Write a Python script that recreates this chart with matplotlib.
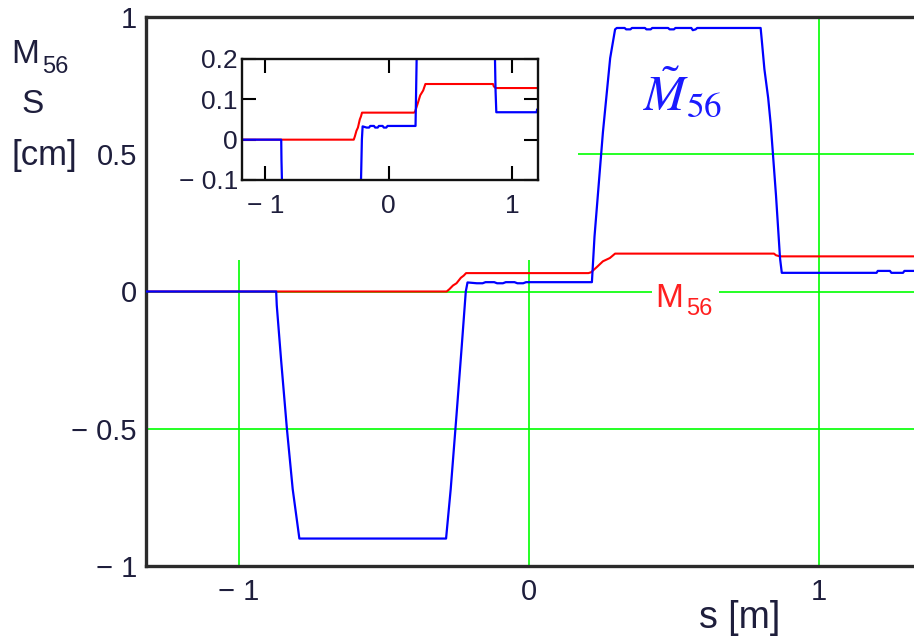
import matplotlib
matplotlib.use('Agg')
import matplotlib.pyplot as plt
from matplotlib import font_manager
from matplotlib.patches import Rectangle

# ---- data (s in m, M56 in cm) ----
s_blue = [-1.321, -0.872, -0.870, -0.855, -0.835, -0.815, -0.792,
          -0.286, -0.270, -0.250, -0.232, -0.218, -0.212,
          -0.180, -0.160, -0.150, -0.120, -0.110, -0.090, -0.080,
          -0.050, -0.040, -0.020, -0.010, 0.217,
          0.226, 0.255, 0.280, 0.297, 0.303,
          0.330, 0.335, 0.350, 0.355, 0.400, 0.405, 0.420, 0.425,
          0.480, 0.485, 0.500, 0.505, 0.560, 0.565, 0.575, 0.580,
          0.799, 0.803, 0.812, 0.825, 0.834, 0.852, 0.866, 0.872,
          1.199, 1.203, 1.245, 1.250, 1.290, 1.295, 1.328]
m56_tilde = [0.0, 0.0, -0.05, -0.25, -0.50, -0.72, -0.90,
             -0.90, -0.72, -0.45, -0.20, 0.0, 0.033,
             0.030, 0.030, 0.034, 0.034, 0.030, 0.030, 0.034,
             0.034, 0.030, 0.030, 0.034, 0.034,
             0.20, 0.58, 0.85, 0.955, 0.96,
             0.96, 0.955, 0.955, 0.96, 0.96, 0.955, 0.955, 0.96,
             0.96, 0.955, 0.955, 0.96, 0.96, 0.952, 0.955, 0.96,
             0.96, 0.915, 0.81, 0.705, 0.607, 0.35, 0.12, 0.068,
             0.068, 0.075, 0.075, 0.068, 0.068, 0.075, 0.075]

s_red = [-1.321, -0.284, -0.275, -0.262, -0.250, -0.235, -0.225, -0.217,
         0.205, 0.214, 0.235, 0.255, 0.279, 0.297,
         0.845, 0.852, 0.866, 1.328]
m56 = [0.0, 0.0, 0.008, 0.022, 0.030, 0.050, 0.058, 0.067,
       0.067, 0.070, 0.090, 0.110, 0.122, 0.138,
       0.138, 0.132, 0.128, 0.128]

main_xticks = [-1, 0, 1]
main_xlabels = ['\u2212 1', '0', '1']
main_yticks = [-1, -0.5, 0, 0.5, 1]
main_ylabels = ['\u2212 1', '\u2212 0.5', '0', '0.5', '1']

inset_xticks = [-1, 0, 1]
inset_xlabels = ['\u2212 1', '0', '1']
inset_yticks = [-0.1, 0, 0.1, 0.2]
inset_ylabels = ['\u2212 0.1', '0', '0.1', '0.2']

# ---- fonts ----
names = {f.name for f in font_manager.fontManager.ttflist}
narrow = 'Liberation Sans Narrow' if 'Liberation Sans Narrow' in names else 'Liberation Sans'
plt.rcParams['font.family'] = [narrow, 'DejaVu Sans']
plt.rcParams['mathtext.fontset'] = 'stix'

W, H = 914, 638
fig = plt.figure(figsize=(W / 100, H / 100), dpi=100)


def fx(px):
    return px / W


def fy(py):
    return 1 - py / H


txt = '#1e1e3c'
green = '#00ff00'

# main axes
ax = fig.add_axes([fx(146), fy(566), fx(914) - fx(146), fy(17) - fy(566)])
ax.set_xlim(-1.321, 1.328)
ax.set_ylim(-0.996, 1.0)
ax.set_axisbelow(True)
ax.grid(True, color=green, lw=1.2)
ax.set_xticks(main_xticks)
ax.set_xticklabels(main_xlabels, fontsize=21, color=txt)
ax.set_yticks(main_yticks)
ax.set_yticklabels(main_ylabels, fontsize=21, color=txt)
ax.tick_params(axis='x', length=0, pad=9)
ax.tick_params(axis='y', length=0, pad=6.5)
for side in ['left', 'top', 'bottom']:
    ax.spines[side].set_linewidth(2.4)
    ax.spines[side].set_color('#2b2b2b')
ax.spines['right'].set_visible(False)

# white area behind the inset
ax.add_patch(Rectangle((0.0, 0.557), 0.5625, 0.45, transform=ax.transAxes,
                       fc='white', ec='none', zorder=1))
# white gap behind the red label
ax.add_patch(Rectangle((fx(652), fy(298)), fx(719) - fx(652), fy(286) - fy(298),
                       transform=fig.transFigure, fc='white', ec='none',
                       zorder=1.5, clip_on=False))

ax.plot(s_red, m56, color='#ff0000', lw=1.5, zorder=2)
ax.plot(s_blue, m56_tilde, color='#0000ff', lw=1.6, zorder=3)

# inset
axi = fig.add_axes([fx(242), fy(180), fx(538) - fx(242), fy(59) - fy(180)])
axi.set_zorder(5)
axi.plot(s_red, m56, color='#ff0000', lw=1.5)
axi.plot(s_blue, m56_tilde, color='#0000ff', lw=1.6)
axi.set_xlim(-1.19, 1.21)
axi.set_ylim(-0.1, 0.2)
axi.set_xticks(inset_xticks)
axi.set_xticklabels(inset_xlabels, fontsize=19, color=txt, fontfamily='Liberation Sans')
axi.set_yticks(inset_yticks)
axi.set_yticklabels(inset_ylabels, fontsize=19, color=txt, fontfamily='Liberation Sans')
axi.tick_params(direction='in', length=10, width=1.5, top=True, right=True)
axi.tick_params(axis='x', pad=10)
axi.tick_params(axis='y', pad=3)
for sp in axi.spines.values():
    sp.set_linewidth(1.7)
    sp.set_color('#111111')

# axis labels
fig.text(fx(11), fy(63), 'M', fontsize=24, color=txt, va='baseline')
fig.text(fx(42), fy(73), '56', fontsize=17, color=txt, va='baseline')
fig.text(fx(21), fy(113), 'S', fontsize=24, color=txt, va='baseline')
fig.text(fx(12), fy(165), '[cm]', fontsize=25, color=txt, va='baseline')
fig.text(fx(699), fy(628), 's [m]', fontsize=27, color=txt, va='baseline')

# curve labels
fig.text(fx(643), fy(110), r'$\tilde{M}_{56}$', fontsize=36, color='#1a1aff',
         va='baseline')
fig.text(fx(655), fy(307), 'M', fontsize=24, color='#ff2020', va='baseline', zorder=6)
fig.text(fx(686), fy(315), '56', fontsize=17, color='#ff2020', va='baseline', zorder=6)

fig.savefig('out.png', dpi=100)
